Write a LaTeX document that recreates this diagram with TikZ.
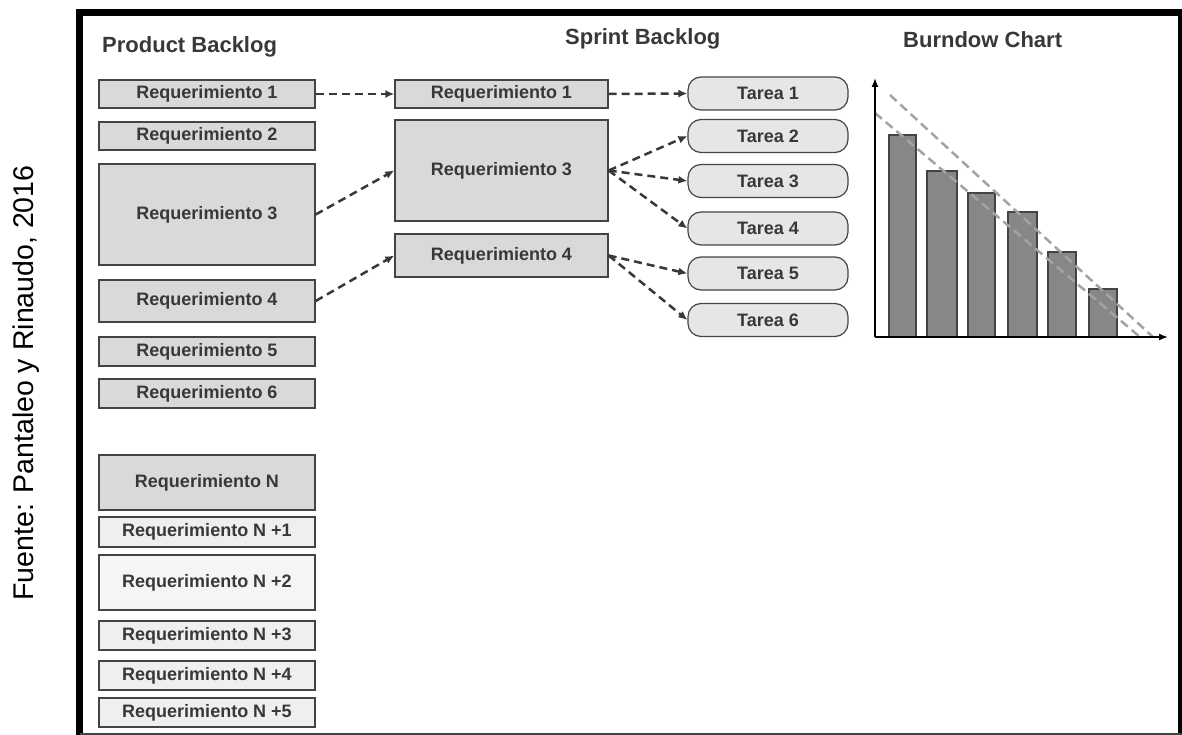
\documentclass[tikz,border=0pt]{standalone}
\usepackage{fontspec}
\setmainfont{Liberation Sans}
\usepackage{tikz}
\usetikzlibrary{arrows.meta}

\definecolor{boxfill}{HTML}{D9D9D9}
\definecolor{lightfill}{HTML}{EFEFEF}
\definecolor{taskfill}{HTML}{E6E6E6}
\definecolor{edgegray}{HTML}{444444}
\definecolor{textgray}{HTML}{383838}
\definecolor{bargray}{HTML}{878787}
\definecolor{trendgray}{HTML}{A3A3A3}

\begin{document}
\begin{tikzpicture}[x=1pt,y=-1pt,
    req/.style={draw=edgegray,line width=1.4pt,fill=boxfill,inner sep=0pt,
      minimum width=216pt,text=textgray,font=\bfseries\fontsize{18}{20}\selectfont},
    reqlight/.style={req,fill=lightfill},
    sreq/.style={req,minimum width=213pt},
    task/.style={draw=edgegray,line width=1.2pt,fill=taskfill,inner sep=0pt,
      minimum width=160pt,minimum height=33pt,rounded corners=13pt,
      text=textgray,font=\bfseries\fontsize{18}{20}\selectfont},
    title/.style={inner sep=0pt,anchor=base west,text=textgray,
      font=\bfseries\fontsize{22}{26}\selectfont},
    link/.style={draw=textgray,line width=2.5pt,dash pattern=on 8pt off 5pt,
      -{Latex[length=9pt,width=8pt]}},
    trend/.style={draw=trendgray,line width=2.5pt,dash pattern=on 9pt off 5pt},
    bar/.style={draw=edgegray,line width=1.5pt,fill=bargray}]
      \useasboundingbox (0,0) rectangle (1182,735);

      % frame
      \draw[line width=7pt] (79.5,740) -- (79.5,12.5) -- (1186,12.5);
      \draw[line width=7pt] (1181.5,12.5) -- (1181.5,740);
      \draw[line width=2pt,draw=edgegray] (79.5,734) -- (1182,734);

      \node[rotate=90,inner sep=0pt,font=\fontsize{28.5}{30}\selectfont] (src) at (26,383)
        {Fuente: Pantaleo y Rinaudo, 2016};

      \node[title] (PB) at (102,53) {Product Backlog};
      \node[title] (SB) at (565,45) {Sprint Backlog};
      \node[title] (BC) at (903,48) {Burndow Chart};

      % product backlog
      \node[req,minimum height=28pt] (R1) at (207,94)    {Requerimiento 1};
      \node[req,minimum height=28pt] (R2) at (207,136)   {Requerimiento 2};
      \node[req,minimum height=101pt](R3) at (207,214.5) {Requerimiento 3};
      \node[req,minimum height=42pt] (R4) at (207,301)   {Requerimiento 4};
      \node[req,minimum height=29pt] (R5) at (207,351.5) {Requerimiento 5};
      \node[req,minimum height=29pt] (R6) at (207,393.5) {Requerimiento 6};

      \node[req,minimum height=55pt]      (RN)  at (207,482.5) {Requerimiento N};
      \node[reqlight,minimum height=30pt] (RN1) at (207,532)   {Requerimiento N +1};
      \node[reqlight,minimum height=55pt,fill=lightfill!60!white] (RN2) at (207,582.5) {Requerimiento N +2};
      \node[reqlight,minimum height=29pt] (RN3) at (207,635.5) {Requerimiento N +3};
      \node[reqlight,minimum height=29pt] (RN4) at (207,675.5) {Requerimiento N +4};
      \node[reqlight,minimum height=29pt] (RN5) at (207,712.5) {Requerimiento N +5};

      % sprint backlog
      \node[sreq,minimum height=28pt] (S1) at (501.5,94)    {Requerimiento 1};
      \node[sreq,minimum height=101pt](S3) at (501.5,170.5) {Requerimiento 3};
      \node[sreq,minimum height=43pt] (S4) at (501.5,255.5) {Requerimiento 4};

      \node[task] (T1) at (768,93.5)  {Tarea 1};
      \node[task] (T2) at (768,136)   {Tarea 2};
      \node[task] (T3) at (768,181)   {Tarea 3};
      \node[task] (T4) at (768,228.5) {Tarea 4};
      \node[task] (T5) at (768,273.5) {Tarea 5};
      \node[task] (T6) at (768,320)   {Tarea 6};

      \draw[link] (R1.east) -- (S1.west);
      \draw[link] (R3.east) -- (S3.west);
      \draw[link] (R4.east) -- (S4.west);
      \draw[link] (S1.east) -- (T1.west);
      \draw[link] (S3.east) -- (T2.west);
      \draw[link] (S3.east) -- (T3.west);
      \draw[link] (S3.east) -- (T4.west);
      \draw[link] (S4.east) -- (T5.west);
      \draw[link] (S4.east) -- (T6.west);

      % burndown chart
      \coordinate (O)  at (875,337);
      \coordinate (YT) at (875,78);
      \coordinate (XT) at (1168,337);

      \draw[bar] (889,337)  rectangle (916,135);
      \draw[bar] (927,337)  rectangle (957,171);
      \draw[bar] (968,337)  rectangle (995,193);
      \draw[bar] (1008,337) rectangle (1037,212);
      \draw[bar] (1048,337) rectangle (1076,252);
      \draw[bar] (1089,337) rectangle (1117,289);

      \draw[trend] (890,95) -- (1153,337);
      \draw[trend] (875,113) -- (1140,337);

      \draw[line width=1.5pt,-{Latex[length=9pt,width=7pt]}] (O) -- (YT);
      \draw[line width=1.5pt,-{Latex[length=9pt,width=7pt]}] (O) -- (XT);
    \end{tikzpicture}
\end{document}
